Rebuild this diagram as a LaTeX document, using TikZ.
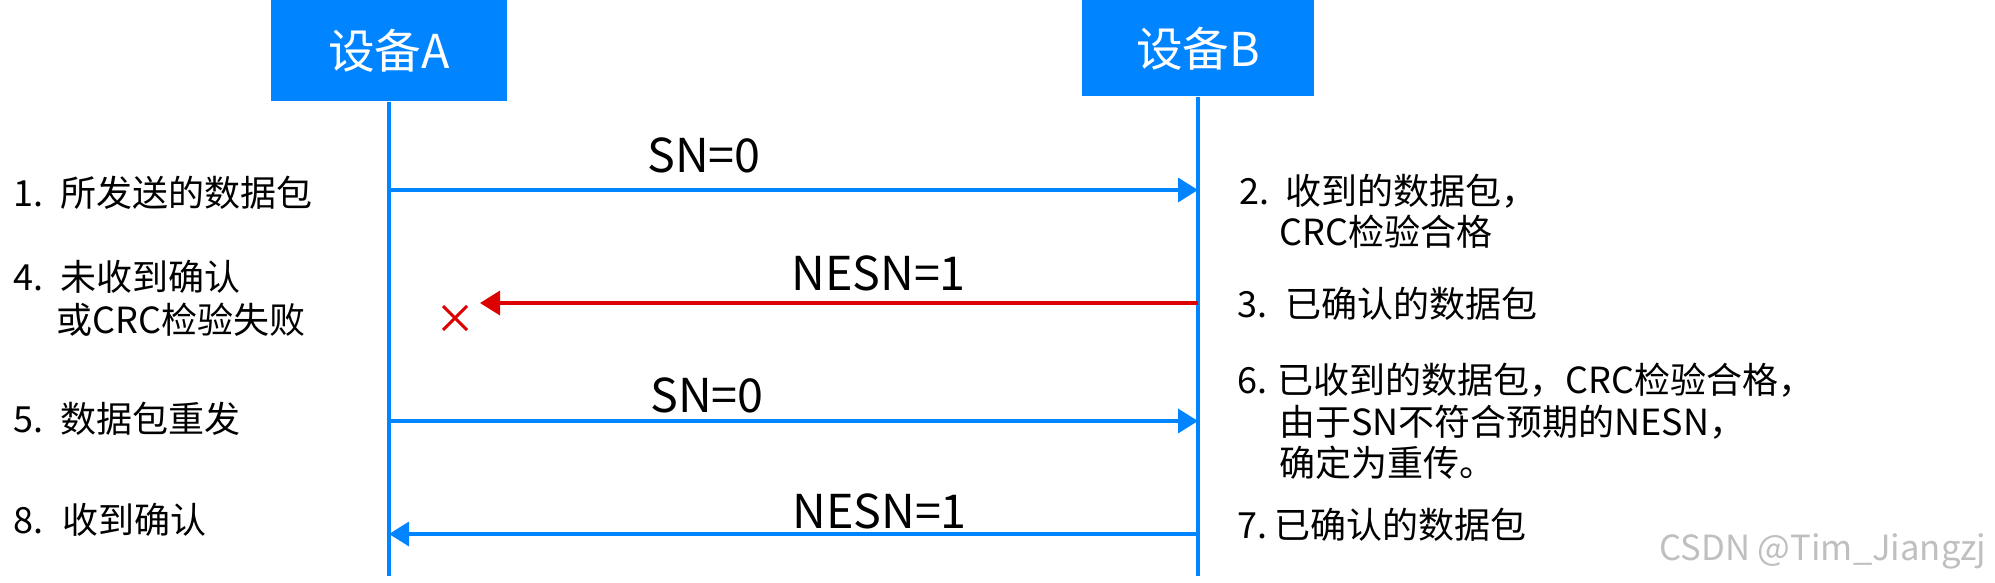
\documentclass[tikz,border=0pt]{standalone}
\usepackage{fontspec}
\newfontfamily\cjk{Noto Sans CJK SC}
\usetikzlibrary{arrows.meta}
\definecolor{bblue}{RGB}{0,132,255}
\definecolor{xred}{RGB}{220,0,0}
\newcommand\numbox[2]{\makebox[#1][l]{#2}}
\begin{document}
\begin{tikzpicture}[x=0.75pt,y=-0.75pt,
  devbox/.style={fill=bblue, text=white, font=\cjk\fontsize{35}{40}\selectfont, inner sep=0pt, anchor=north},
  life/.style={draw=bblue, line width=2.4pt},
  msg/.style={draw=bblue, line width=2.6pt, -{Triangle[length=15pt,width=18pt]}},
  lost/.style={msg, draw=xred},
  lbl/.style={font=\cjk\fontsize{35}{40}\selectfont, inner sep=0pt, anchor=base west},
  note/.style={font=\cjk\fontsize{27}{32}\selectfont, inner sep=0pt, anchor=base west},
  wm/.style={font=\cjk\fontsize{26}{30}\selectfont, text=black!25, inner sep=0pt, anchor=base west},
  xmark/.style={draw=xred, line width=2.2pt}
]
\useasboundingbox (0,0) rectangle (1995,582);
% devices
\node[devbox, minimum width=177pt, minimum height=75.75pt] (A) at (389,0) {设备A};
\node[devbox, minimum width=174pt, minimum height=72pt] (B) at (1198,0) {设备B};
\coordinate (Aend) at (389,576);
\coordinate (Bend) at (1198,576);
\draw[life] (A.south) -- (Aend);
\draw[life] (B.south) -- (Bend);
% message points
\coordinate (a1) at (389,190); \coordinate (b1) at (1198,190);
\coordinate (b2) at (1198,303); \coordinate (x2) at (480,303);
\coordinate (a3) at (389,421); \coordinate (b3) at (1198,421);
\coordinate (a4) at (389,534); \coordinate (b4) at (1198,534);
\draw[msg] (a1) -- (b1);
\draw[lost] (b2) -- (x2);
\draw[msg] (a3) -- (b3);
\draw[msg] (b4) -- (a4);
% lost mark
\draw[xmark] (443,306) -- (467,330) (443,330) -- (467,306);
% message labels
\node[lbl] (m1) at (647,172) {SN=0};
\node[lbl] (m2) at (791,290) {NESN=1};
\node[lbl] (m3) at (650,412) {SN=0};
\node[lbl] (m4) at (792,528) {NESN=1};
% left notes
\node[note] (l1) at (13,206) {\numbox{35.25pt}{1.}所发送的数据包};
\node[note] (l4) at (13,290) {\numbox{35.25pt}{4.}未收到确认};
\node[note] (l4b) at (56,333) {或CRC检验失败};
\node[note] (l5) at (13,432) {\numbox{35.25pt}{5.}数据包重发};
\node[note] (l8) at (13,533) {\numbox{36.75pt}{8.}收到确认};
% right notes
\node[note] (r2) at (1239,204) {\numbox{34.5pt}{2.}收到的数据包，};
\node[note] (r2b) at (1279,245) {CRC检验合格};
\node[note] (r3) at (1237,317) {\numbox{36pt}{3.}已确认的数据包};
\node[note] (r6) at (1237,393) {\numbox{30pt}{6.}已收到的数据包，CRC检验合格，};
\node[note] (r6b) at (1279,435) {由于SN不符合预期的NESN，};
\node[note] (r6c) at (1279,476) {确定为重传。};
\node[note] (r7) at (1237,538) {\numbox{27.75pt}{7.}已确认的数据包};
% watermark
\node[wm] (wm) at (1659,560) {CSDN @Tim\_Jiangzj};
\end{tikzpicture}
\end{document}
